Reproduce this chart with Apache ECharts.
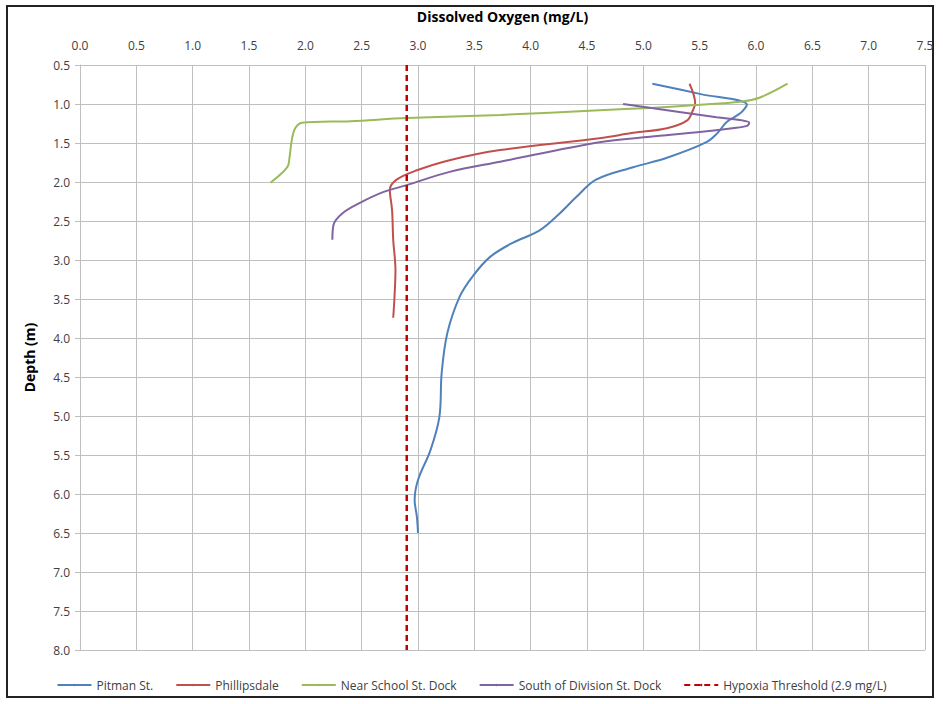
<!DOCTYPE html>
<html>
<head>
<meta charset="utf-8">
<script src="https://cdn.jsdelivr.net/npm/echarts@6/dist/echarts.min.js"></script>
<style>
  html, body { margin: 0; padding: 0; background: #fff; }
  #frame { position: absolute; left: 6px; top: 5px; width: 928px; height: 693px; border: 2px solid #222; box-sizing: border-box; }
  #chart { position: absolute; left: 0; top: 0; width: 943px; height: 704px; }
</style>
</head>
<body>
<div id="frame"></div>
<div id="chart"></div>
<script>
// Tick labels
var xTicks = ['0.0','0.5','1.0','1.5','2.0','2.5','3.0','3.5','4.0','4.5','5.0','5.5','6.0','6.5','7.0','7.5'];
var yTicks = ['0.5','1.0','1.5','2.0','2.5','3.0','3.5','4.0','4.5','5.0','5.5','6.0','6.5','7.0','7.5','8.0'];

// [dissolved oxygen mg/L, depth m]
var pitman = [
  [5.08,0.74],[5.50,0.87],[5.92,1.01],[5.86,1.12],[5.74,1.23],[5.66,1.37],[5.56,1.49],
  [5.21,1.69],[4.91,1.81],[4.58,1.97],[4.40,2.20],[4.26,2.40],[4.08,2.62],[3.84,2.78],
  [3.64,2.96],[3.49,3.20],[3.37,3.47],[3.26,3.94],[3.21,4.45],[3.19,5.01],[3.11,5.44],
  [3.00,5.82],[2.97,6.08],[2.99,6.29],[3.00,6.50]
];
var phillipsdale = [
  [5.41,0.74],[5.46,0.99],[5.44,1.08],[5.39,1.21],[5.21,1.31],[4.91,1.37],[4.61,1.44],
  [3.73,1.59],[3.28,1.72],[2.99,1.85],[2.81,1.97],[2.75,2.10],[2.77,2.36],[2.78,2.74],
  [2.80,3.13],[2.79,3.51],[2.78,3.74]
];
var nearSchool = [
  [6.28,0.74],[6.03,0.92],[5.86,0.97],[5.50,1.01],[5.06,1.05],[4.61,1.08],[3.73,1.14],
  [2.90,1.18],[2.40,1.22],[1.97,1.24],[1.91,1.31],[1.88,1.46],[1.86,1.68],[1.84,1.81],
  [1.69,2.01]
];
var southDivision = [
  [4.82,1.00],[5.21,1.08],[5.65,1.17],[5.88,1.21],[5.94,1.24],[5.92,1.28],[5.79,1.31],
  [5.50,1.36],[5.06,1.42],[4.61,1.49],[3.73,1.74],[3.28,1.87],[2.90,2.04],[2.69,2.13],
  [2.48,2.27],[2.33,2.40],[2.25,2.55],[2.24,2.74]
];
var hypoxia = [[2.9,0.5],[2.9,8.0]];

var font = '"Open Sans", sans-serif';
var gridColor = '#bfbfbf';

function lineSeries(name, data, color, extra) {
  var s = {
    name: name,
    type: 'line',
    data: data,
    symbol: 'none',
    smooth: 0.35,
    lineStyle: { color: color, width: 2 },
    itemStyle: { color: color }
  };
  for (var k in extra) s[k] = extra[k];
  return s;
}

var chart = echarts.init(document.getElementById('chart'), null, { renderer: 'svg' });
chart.setOption({
  animation: false,
  grid: { left: 80, right: 18, top: 65, bottom: 54 },
  xAxis: {
    type: 'value',
    position: 'top',
    min: 0, max: 7.5, interval: 0.5,
    name: 'Dissolved Oxygen (mg/L)',
    nameLocation: 'middle',
    nameGap: 42,
    nameTextStyle: { fontFamily: font, fontSize: 14, fontWeight: 'bold', color: '#000' },
    axisLabel: { fontFamily: font, fontSize: 12, color: '#404040', margin: 14,
      formatter: function(v) { return xTicks[Math.round(v / 0.5)]; } },
    axisLine: { show: true, lineStyle: { color: gridColor } },
    axisTick: { show: false },
    splitLine: { show: true, lineStyle: { color: gridColor, width: 1 } }
  },
  yAxis: {
    type: 'value',
    inverse: true,
    min: 0.5, max: 8.0, interval: 0.5,
    name: 'Depth (m)',
    nameLocation: 'middle',
    nameGap: 44,
    nameRotate: 90,
    nameTextStyle: { fontFamily: font, fontSize: 14, fontWeight: 'bold', color: '#000' },
    axisLabel: { fontFamily: font, fontSize: 12, color: '#404040', margin: 10,
      formatter: function(v) { return yTicks[Math.round((v - 0.5) / 0.5)]; } },
    axisLine: { show: true, lineStyle: { color: gridColor } },
    axisTick: { show: true, length: 5, lineStyle: { color: gridColor } },
    splitLine: { show: true, lineStyle: { color: gridColor, width: 1 } }
  },
  legend: {
    bottom: 8,
    left: 'center',
    itemWidth: 34,
    itemHeight: 3,
    itemGap: 22,
    textStyle: { fontFamily: font, fontSize: 12, color: '#404040' },
    data: ['Pitman St.', 'Phillipsdale', 'Near School St. Dock', 'South of Division St. Dock', 'Hypoxia Threshold (2.9 mg/L)']
  },
  series: [
    lineSeries('Pitman St.', pitman, '#4f81bd'),
    lineSeries('Phillipsdale', phillipsdale, '#c0504d'),
    lineSeries('Near School St. Dock', nearSchool, '#9bbb59'),
    lineSeries('South of Division St. Dock', southDivision, '#8064a2'),
    lineSeries('Hypoxia Threshold (2.9 mg/L)', hypoxia, '#c00000',
      { smooth: false, lineStyle: { color: '#c00000', width: 2.5, type: [6, 4] } })
  ]
});
window.addEventListener('resize', function() { chart.resize(); });
</script>
</body>
</html>
